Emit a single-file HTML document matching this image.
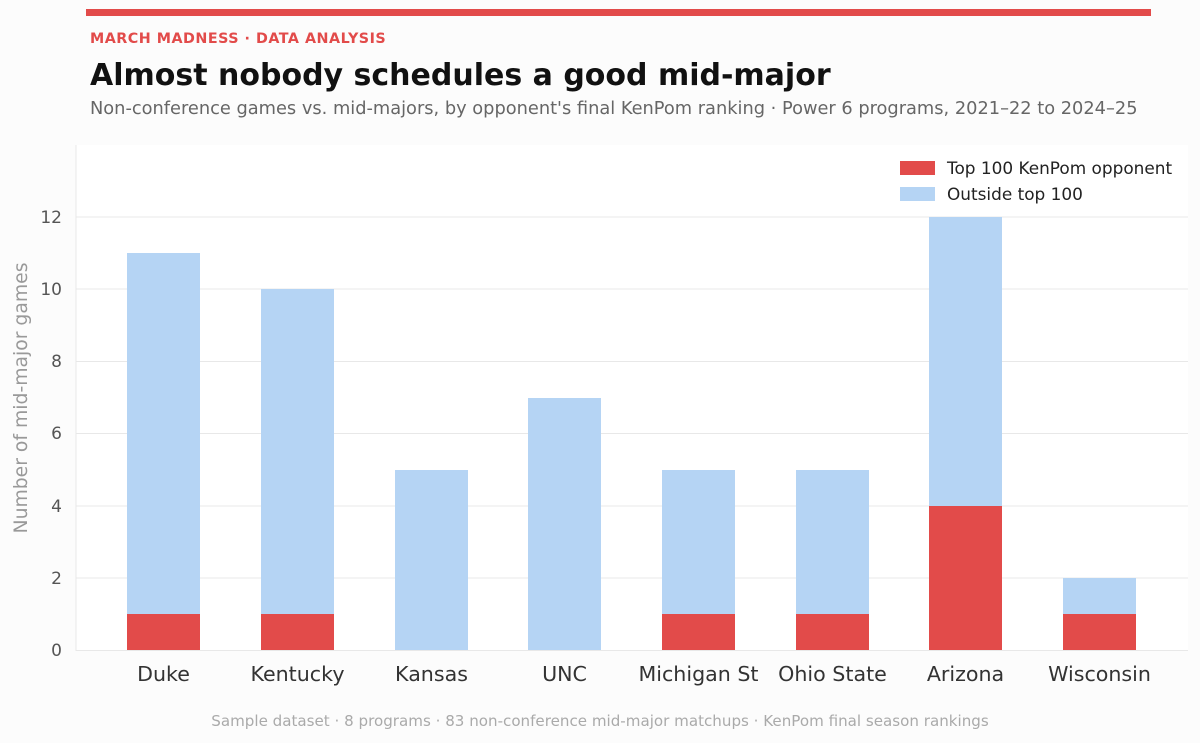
<!DOCTYPE html>
<html><head><meta charset="utf-8"><style>
body{margin:0;background:#fff;}
svg text{font-family:"DejaVu Sans","Liberation Sans",sans-serif;}
</style></head><body>
<svg width="1200" height="743" viewBox="0 0 1200 743" xmlns="http://www.w3.org/2000/svg">
<rect width="1200" height="743" fill="#fcfcfc"/>
<rect x="86" y="9" width="1065" height="7" fill="#e24b4a"/>
<text x="90" y="43" font-size="14.3" font-weight="bold" fill="#e24b4a" letter-spacing="0.5">MARCH MADNESS · DATA ANALYSIS</text>
<text x="90" y="85" font-size="30" font-weight="bold" fill="#111">Almost nobody schedules a good mid-major</text>
<text x="90" y="114" font-size="17.8" fill="#666">Non-conference games vs. mid-majors, by opponent's final KenPom ranking · Power 6 programs, 2021–22 to 2024–25</text>
<rect x="76" y="145" width="1112" height="506" fill="#fff"/>
<g stroke="#e8e8e8" stroke-width="1">
<line x1="76" x2="1188" y1="217" y2="217"/><line x1="76" x2="1188" y1="289" y2="289"/>
<line x1="76" x2="1188" y1="361.5" y2="361.5"/><line x1="76" x2="1188" y1="433.5" y2="433.5"/>
<line x1="76" x2="1188" y1="506" y2="506"/><line x1="76" x2="1188" y1="578" y2="578"/>
<line x1="76" x2="1188" y1="650.5" y2="650.5"/>
<line x1="76" x2="76" y1="145" y2="651"/>
</g>
<g font-size="17" fill="#555" text-anchor="end">
<text x="62" y="223">12</text><text x="62" y="295">10</text><text x="62" y="367">8</text>
<text x="62" y="439">6</text><text x="62" y="512">4</text><text x="62" y="584">2</text><text x="62" y="656">0</text>
</g>
<text transform="translate(27,398) rotate(-90)" font-size="18.8" fill="#999" text-anchor="middle">Number of mid-major games</text>
<g fill="#b5d4f4">
<rect x="127" y="253" width="73" height="397"/>
<rect x="261" y="289" width="73" height="361"/>
<rect x="395" y="470" width="73" height="180"/>
<rect x="528" y="398" width="73" height="252"/>
<rect x="662" y="470" width="73" height="180"/>
<rect x="796" y="470" width="73" height="180"/>
<rect x="929" y="217" width="73" height="433"/>
<rect x="1063" y="578" width="73" height="72"/>
</g>
<g fill="#e24b4a">
<rect x="127" y="614" width="73" height="36"/>
<rect x="261" y="614" width="73" height="36"/>
<rect x="662" y="614" width="73" height="36"/>
<rect x="796" y="614" width="73" height="36"/>
<rect x="929" y="506" width="73" height="144"/>
<rect x="1063" y="614" width="73" height="36"/>
</g>
<g font-size="20.6" fill="#333" text-anchor="middle">
<text x="163.5" y="681">Duke</text><text x="297.5" y="681">Kentucky</text><text x="431.5" y="681">Kansas</text>
<text x="564.5" y="681">UNC</text><text x="698.5" y="681">Michigan St</text><text x="832.5" y="681">Ohio State</text>
<text x="965.5" y="681">Arizona</text><text x="1099.5" y="681">Wisconsin</text>
</g>
<rect x="900" y="161" width="35" height="14" fill="#e24b4a"/>
<rect x="900" y="187" width="35" height="14" fill="#b5d4f4"/>
<text x="947" y="174" font-size="16.9" fill="#222">Top 100 KenPom opponent</text>
<text x="947" y="200" font-size="16.9" fill="#222">Outside top 100</text>
<text x="600" y="726" font-size="15.1" fill="#aaa" text-anchor="middle">Sample dataset · 8 programs · 83 non-conference mid-major matchups · KenPom final season rankings</text>
</svg>
</body></html>
